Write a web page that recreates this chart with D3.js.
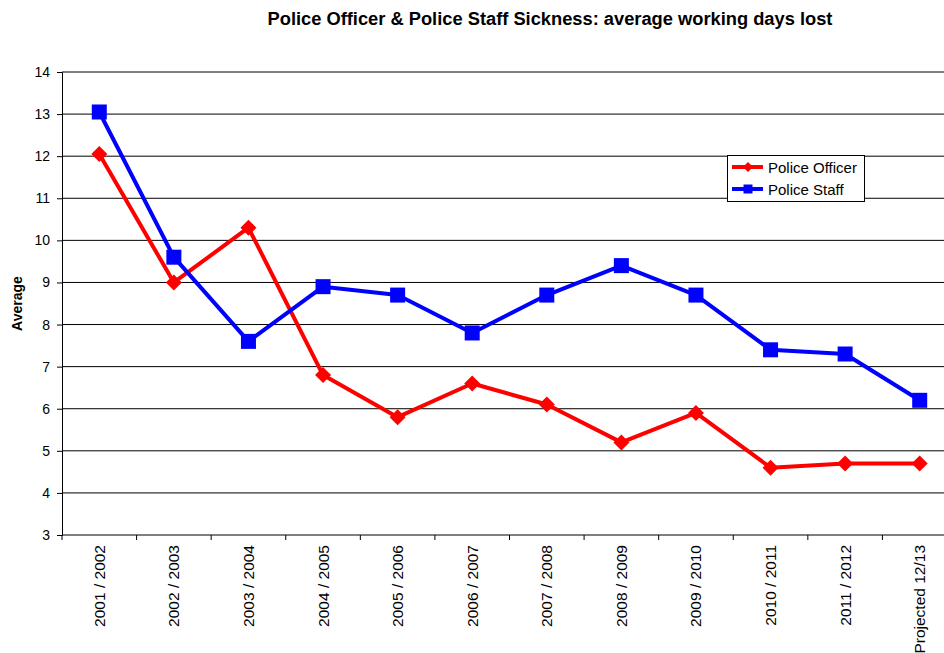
<!DOCTYPE html>
<html><head><meta charset="utf-8">
<script src="https://cdn.jsdelivr.net/npm/d3@7"></script>
<style>body{margin:0;background:#fff;}svg{display:block;font-family:"Liberation Sans",Arial,sans-serif;}</style>
</head><body><svg id="c" width="944" height="653"></svg>
<script>
const categories = ["2001 / 2002","2002 / 2003","2003 / 2004","2004 / 2005","2005 / 2006","2006 / 2007","2007 / 2008","2008 / 2009","2009 / 2010","2010 / 2011","2011 / 2012","Projected 12/13"];
const officer = [12.05, 9.0, 10.3, 6.8, 5.8, 6.6, 6.1, 5.2, 5.9, 4.6, 4.7, 4.7];
const staff = [13.05, 9.6, 7.6, 8.9, 8.7, 7.8, 8.7, 9.4, 8.7, 7.4, 7.3, 6.2];
const yTicks = [3,4,5,6,7,8,9,10,11,12,13,14];

const svg = d3.select("#c");
const L = 62, R = 957, T = 72, B = 535;
const x = d3.scaleBand().domain(categories).range([L, R]);
const y = d3.scaleLinear().domain([3, 14]).range([B, T]);

// title
svg.append("text").attr("x", 550).attr("y", 25).attr("text-anchor", "middle")
  .attr("font-size", 18.3).attr("font-weight", "bold").text("Police Officer & Police Staff Sickness: average working days lost");

// gridlines
svg.append("g").selectAll("line").data(yTicks.slice(1)).join("line")
  .attr("x1", L).attr("x2", R).attr("y1", d => y(d)).attr("y2", d => y(d))
  .attr("stroke", "#000").attr("stroke-width", 1);

// y axis
const ya = svg.append("g").attr("transform", `translate(${L},0)`)
  .call(d3.axisLeft(y).tickValues(yTicks).tickSize(5).tickPadding(7));
ya.select(".domain").attr("stroke", "#000");
ya.selectAll("text").attr("font-size", 14).attr("fill", "#000").attr("font-family", "Liberation Sans, Arial, sans-serif");

// x axis
const xa = svg.append("g").attr("transform", `translate(0,${B})`);
xa.append("line").attr("x1", L).attr("x2", R).attr("stroke", "#000");
xa.selectAll("line.t").data(categories).join("line").attr("class", "t")
  .attr("x1", d => x(d)).attr("x2", d => x(d)).attr("y1", 0).attr("y2", 5).attr("stroke", "#000");
xa.selectAll("text").data(categories).join("text")
  .attr("transform", d => `translate(${x(d) + x.bandwidth() / 2 + 5.5},10) rotate(-90)`)
  .attr("text-anchor", "end").attr("font-size", 15.5).text(d => d);

// y label
svg.append("text").attr("transform", `translate(22,${(T + B) / 2}) rotate(-90)`)
  .attr("text-anchor", "middle").attr("font-size", 14).attr("font-weight", "bold").text("Average");

const cx = d => x(d) + x.bandwidth() / 2;
const line = d3.line().x(d => cx(d.c)).y(d => y(d.v));
const offData = categories.map((c, i) => ({c, v: officer[i]}));
const stfData = categories.map((c, i) => ({c, v: staff[i]}));

svg.append("path").datum(offData).attr("d", line).attr("fill", "none").attr("stroke", "#ff0000").attr("stroke-width", 4).attr("stroke-linejoin", "round");
svg.append("path").datum(stfData).attr("d", line).attr("fill", "none").attr("stroke", "#0000ff").attr("stroke-width", 4).attr("stroke-linejoin", "round");

const diamond = s => `M0,${-s}L${s},0L0,${s}L${-s},0Z`;
svg.append("g").selectAll("path").data(offData).join("path")
  .attr("transform", d => `translate(${cx(d.c)},${y(d.v)})`).attr("d", diamond(8)).attr("fill", "#ff0000");
svg.append("g").selectAll("rect").data(stfData).join("rect")
  .attr("x", d => cx(d.c) - 7.5).attr("y", d => y(d.v) - 7.5).attr("width", 15).attr("height", 15).attr("fill", "#0000ff");

// legend
const lg = svg.append("g");
lg.append("rect").attr("x", 727.5).attr("y", 155.5).attr("width", 137).attr("height", 46)
  .attr("fill", "#fff").attr("stroke", "#000").attr("stroke-width", 1);
const items = [{n: "Police Officer", c: "#ff0000", s: "d"}, {n: "Police Staff", c: "#0000ff", s: "s"}];
items.forEach((it, i) => {
  const yy = 167 + i * 22;
  lg.append("line").attr("x1", 732).attr("x2", 763).attr("y1", yy).attr("y2", yy).attr("stroke", it.c).attr("stroke-width", 4);
  if (it.s === "d") lg.append("path").attr("transform", `translate(748,${yy})`).attr("d", diamond(5)).attr("fill", it.c);
  else lg.append("rect").attr("x", 743.5).attr("y", yy - 4.5).attr("width", 9).attr("height", 9).attr("fill", it.c);
  lg.append("text").attr("x", 768).attr("y", yy + 5.5).attr("font-size", 15).text(it.n);
});
</script></body></html>
